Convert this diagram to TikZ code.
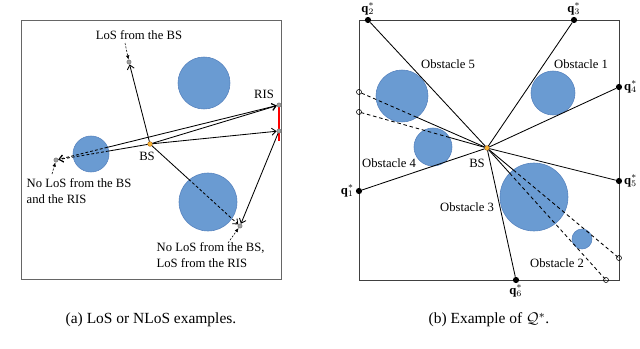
\documentclass[tikz,border=0pt]{standalone}
\usepackage{amsmath}
\usepackage{fontspec}
\setmainfont{Liberation Serif}
\usetikzlibrary{arrows.meta,calc}
\definecolor{Obst}{HTML}{6A9BD2}
\definecolor{ObstLine}{HTML}{5582BE}
\definecolor{BSdot}{HTML}{F2B134}
\tikzset{
areabox/.style={draw=black!60, semithick},
obstacle/.style={fill=Obst, draw=ObstLine, thin},
userdot/.style={circle, fill=gray!75, draw=gray, inner sep=0pt, minimum size=3pt},
bsdot/.style={circle, fill=BSdot, draw=orange!70!black, very thin, inner sep=0pt, minimum size=3.4pt},
qdot/.style={circle, fill=black, inner sep=0pt, minimum size=4.4pt},
hollowdot/.style={circle, draw=black, thin, inner sep=0pt, minimum size=3.6pt},
losarrow/.style={-{Straight Barb[length=3pt,width=5pt]}, semithick},
nlosarrow/.style={-{Straight Barb[length=3pt,width=5pt]}, semithick, dash pattern=on 2pt off 1.5pt},
notearrow/.style={-{Latex[length=3pt,width=2.5pt]}, thin, dash pattern=on 1.5pt off 1pt},
sightline/.style={semithick},
blockline/.style={semithick, dash pattern=on 2.5pt off 2pt},
lbl/.style={font=\fontsize{9}{11}\selectfont, inner sep=1pt},
caption/.style={font=\fontsize{11}{13}\selectfont}
}
\begin{document}
\begin{tikzpicture}[x=0.025cm, y=-0.025cm]
  \useasboundingbox[fill=white] (0,0) rectangle (640,349);
  % (a) LoS or NLoS examples
  \draw[areabox] (21,20) rectangle (281,279);
  \draw[obstacle] (204,83) circle[radius=26];
  \draw[obstacle] (91,154) circle[radius=18];
  \draw[obstacle] (208,202) circle[radius=29];
  \draw[red, line width=2.1pt] (279,104) -- (279,141);
  \node[bsdot] (bsa) at (150,144) {};
  \node[userdot] (ris1) at (279,105) {};
  \node[userdot] (ris2) at (279,131) {};
  \node[userdot] (ulos) at (129,62) {};
  \node[userdot] (ublk) at (56,160) {};
  \node[userdot] (uris) at (240,226) {};
  \node[lbl] (bsalab) at (147,156) {BS};
  \node[lbl] (rislab) at (264,94) {RIS};
  \node[lbl] (loslab) at (139,35) {LoS from the BS};
  \node[lbl, align=left, anchor=north west] (blklab) at (25,177) {No LoS from the BS\\and the RIS};
  \node[lbl, align=left, anchor=north west] (rislab2) at (155,241) {No LoS from the BS,\\LoS from the RIS};
  \coordinate (ea1) at ($(bsa)!0.44!(ublk)$);
  \coordinate (ea2) at ($(ris1)!0.77!(ublk)$);
  \coordinate (ea3) at ($(bsa)!0.43!(uris)$);
  \coordinate (na1) at (125,43);
  \coordinate (na2) at (52,174);
  \coordinate (na3) at (228,243);
  \draw[losarrow] (bsa) -- (ulos);
  \draw[losarrow] (bsa) -- (ris1);
  \draw[losarrow] (bsa) -- (ris2);
  \draw[losarrow] (ea2) -- (ris1);
  \draw[sightline] (bsa) -- (ea1);
  \draw[nlosarrow] (ea1) -- (ublk);
  \draw[nlosarrow] (ea2) -- (ublk);
  \draw[sightline] (bsa) -- (ea3);
  \draw[nlosarrow] (ea3) -- (uris);
  \draw[losarrow] (ris2) -- (uris);
  \draw[notearrow] (na1) -- (ulos);
  \draw[notearrow] (na2) -- (ublk);
  \draw[notearrow] (na3) -- (uris);
  \node[caption] (capa) at (151,320) {(a) LoS or NLoS examples.};
  % (b) example of the safe set
  \draw[areabox, draw=black!75] (359,20) rectangle (619,280);
  \draw[obstacle] (402,96) circle[radius=26];
  \draw[obstacle] (553,93) circle[radius=22];
  \draw[obstacle] (433,147) circle[radius=19];
  \draw[obstacle] (534,197) circle[radius=34];
  \draw[obstacle] (582,239) circle[radius=10];
  \node[lbl] (ob5) at (448,64) {Obstacle 5};
  \node[lbl] (ob1) at (581,64) {Obstacle 1};
  \node[lbl] (ob4) at (389,163) {Obstacle 4};
  \node[lbl] (ob3) at (467,207) {Obstacle 3};
  \node[lbl] (ob2) at (557,263) {Obstacle 2};
  \node[bsdot] (bsb) at (487,148) {};
  \node[lbl] (bsblab) at (477,163) {BS};
  \node[qdot, label={[lbl]above:$\mathbf{q}_2^*$}] (q2) at (368,20) {};
  \node[qdot, label={[lbl]above:$\mathbf{q}_3^*$}] (q3) at (574,20) {};
  \node[qdot, label={[lbl]right:$\mathbf{q}_4^*$}] (q4) at (619,87) {};
  \node[qdot, label={[lbl]left:$\mathbf{q}_1^*$}] (q1) at (359,191) {};
  \node[qdot, label={[lbl]right:$\mathbf{q}_5^*$}] (q5) at (619,181) {};
  \node[qdot, label={[lbl]below:$\mathbf{q}_6^*$}] (q6) at (516,280) {};
  \node[hollowdot] (h1) at (359,92) {};
  \node[hollowdot] (h2) at (359,112) {};
  \node[hollowdot] (h3) at (619,258) {};
  \node[hollowdot] (h4) at (606,280) {};
  \foreach \q in {q1,q2,q3,q4,q5,q6}
    \draw[sightline] (bsb) -- (\q);
  \foreach \h/\t in {h1/0.548, h2/0.293, h3/0.2, h4/0.191} {
    \coordinate (e\h) at ($(bsb)!\t!(\h)$);
    \draw[sightline] (bsb) -- (e\h);
    \draw[blockline] (e\h) -- (\h.center);
  }
  \node[caption] (capb) at (489,320) {(b) Example of $\mathcal{Q}^*$.};
\end{tikzpicture}
\end{document}
